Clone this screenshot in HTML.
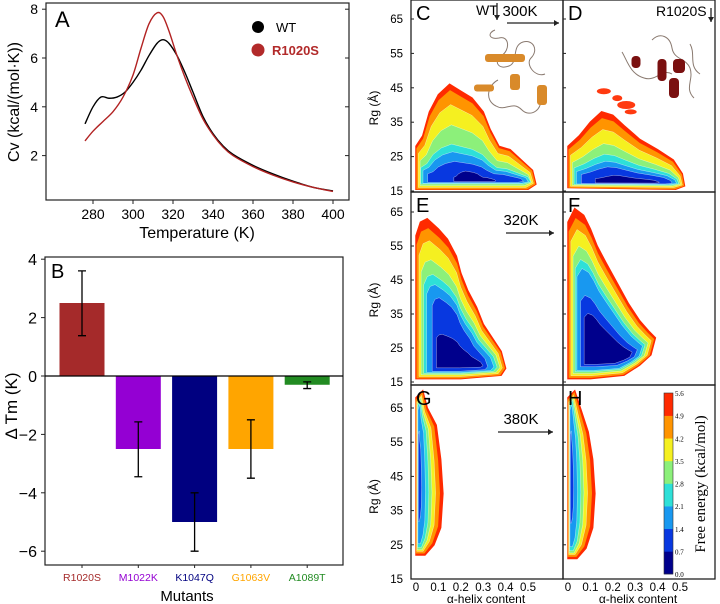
<!DOCTYPE html>
<html><head><meta charset="utf-8"><style>
html,body{margin:0;padding:0;background:#fff;width:720px;height:604px;overflow:hidden}
svg{display:block;font-family:"Liberation Sans",sans-serif}
</style></head><body>
<svg id="fig" width="720" height="604" viewBox="0 0 720 604">
<g id="pa"></g>
<g id="pb"></g>
<g id="hm"></g>
</svg>
<script>
// ---------- Panel A data ----------
const tempWT = [276,280,284,288,292,296,300,304,308,312,315,318,322,326,330,335,340,345,350,360,370,380,390,400];
const cvWT   = [3.3,4.0,4.4,4.35,4.4,4.6,5.0,5.5,6.1,6.6,6.75,6.6,6.1,5.4,4.6,3.6,2.9,2.4,2.05,1.6,1.25,0.95,0.7,0.55];
const tempMut = [276,280,285,290,295,300,304,308,312,315,318,322,326,330,335,340,345,350,360,370,380,390,400];
const cvMut   = [2.6,3.0,3.4,3.8,4.4,5.3,6.4,7.4,7.85,7.7,7.1,6.1,5.2,4.4,3.5,2.85,2.35,2.0,1.55,1.2,0.92,0.7,0.53];
const tempTicks = [280,300,320,340,360,380,400];
const cvTicks = [2,4,6,8];
// ---------- Panel B data ----------
const mutants = ["R1020S","M1022K","K1047Q","G1063V","A1089T"];
const deltaTm = [2.5,-2.5,-5.0,-2.5,-0.3];
const errLow  = [1.38,-3.45,-6.0,-3.5,-0.43];
const errHigh = [3.6,-1.57,-4.0,-1.5,-0.2];
const dtmTicks = [4,2,0,-2,-4,-6];
// ---------- Heatmap data (alpha-helix, Rg) ----------
const rgTicks = [15,25,35,45,55,65];
const helixTicks = [0,0.1,0.2,0.3,0.4,0.5];
const levelValues = ["0.0","0.7","1.4","2.1","2.8","3.5","4.2","4.9","5.6"];
const outerC = [[0,15.5],[0,28],[0.03,31],[0.06,38],[0.1,43],[0.15,46],[0.2,44],[0.25,42],[0.3,38],[0.33,33],[0.37,28],[0.42,27],[0.47,24],[0.52,21],[0.535,17],[0.5,15.5]];
const outerD = [[0,16],[0,28],[0.05,31],[0.1,35],[0.15,38],[0.2,37],[0.25,34],[0.32,30],[0.4,27],[0.47,24],[0.51,20],[0.52,16.5],[0.48,15.5]];
const outerE = [[0,16],[0,58],[0.02,62],[0.05,63],[0.1,60],[0.14,57],[0.18,52],[0.2,47],[0.23,42],[0.27,37],[0.3,32],[0.34,28],[0.38,24],[0.4,19],[0.38,17],[0.2,16]];
const outerF = [[0,16],[0,62],[0.03,66],[0.07,64],[0.1,60],[0.13,55],[0.17,50],[0.22,44],[0.27,38],[0.32,33],[0.36,30],[0.39,28],[0.37,23],[0.32,20],[0.25,17],[0.1,16]];
const outerG = [[0,22],[0,68],[0.03,70],[0.05,65],[0.09,60],[0.11,50],[0.12,40],[0.11,30],[0.08,25],[0.04,22]];
const outerH = [[0,21],[0,68],[0.03,70],[0.06,64],[0.09,58],[0.11,50],[0.12,40],[0.11,30],[0.08,24],[0.04,21]];

const NS="http://www.w3.org/2000/svg";
function mk(parent,tag,attrs,text){const e=document.createElementNS(NS,tag);for(const k in attrs)e.setAttribute(k,attrs[k]);if(text!==undefined)e.textContent=text;parent.appendChild(e);return e;}

// ---------- Panel A ----------
(function(){
const g=document.getElementById('pa');
const X=t=>93+(t-280)*2, Y=v=>204.4-24.4*v;
function smooth(ts,vs){const p=ts.map((t,i)=>[X(t),Y(vs[i])]);let d=`M${p[0][0]},${p[0][1]}`;for(let i=0;i<p.length-1;i++){const p0=p[Math.max(0,i-1)],p1=p[i],p2=p[i+1],p3=p[Math.min(p.length-1,i+2)];d+=` C${p1[0]+(p2[0]-p0[0])/6},${p1[1]+(p2[1]-p0[1])/6} ${p2[0]-(p3[0]-p1[0])/6},${p2[1]-(p3[1]-p1[1])/6} ${p2[0]},${p2[1]}`;}return d;}
const box=mk(g,'rect',{x:46,y:3,width:303,height:197,fill:'none',stroke:'#222','stroke-width':1.2});

tempTicks.forEach(t=>{const l=mk(g,'line',{x1:X(t),x2:X(t),y1:200,y2:204,stroke:'#222'});
const tx=mk(g,'text',{x:X(t),y:219,'text-anchor':'middle','font-size':14},t);});
cvTicks.forEach(v=>{const l=mk(g,'line',{x1:46,x2:42,y1:Y(v),y2:Y(v),stroke:'#222'});
const l2=mk(g,'line',{x1:349,x2:345,y1:Y(v),y2:Y(v),stroke:'#222'});
const tx=mk(g,'text',{x:38,y:Y(v)+5,'text-anchor':'end','font-size':14},v);});
const wt=mk(g,'path',{d:smooth(tempWT,cvWT),fill:'none',stroke:'#000','stroke-width':1.4});
const mu=mk(g,'path',{d:smooth(tempMut,cvMut),fill:'none',stroke:'#b22222','stroke-width':1.4});
const lbl=mk(g,'text',{x:55,y:27,'font-size':22},'A');
const d1=mk(g,'circle',{cx:258,cy:27,r:6,fill:'#000'});
const t1=mk(g,'text',{x:276,y:32,'font-size':13},'WT');
const d2=mk(g,'circle',{cx:258,cy:50,r:6.5,fill:'#b22a2a'});
const t2=mk(g,'text',{x:272,y:55,'font-size':13,'font-weight':'bold',fill:'#b22a2a'},'R1020S');
const xl=mk(g,'text',{x:197,y:238,'text-anchor':'middle','font-size':16},'Temperature (K)');
const yl=mk(g,'text',{x:0,y:0,'text-anchor':'middle','font-size':16,transform:'translate(19,102) rotate(-90)'},'Cv (kcal/(mol·K))');
})();

// ---------- Panel B ----------
(function(){
const g=document.getElementById('pb');
const Y=v=>376-29.2*v, X=i=>82+i*56.3;
const cols=['#a52a2a','#9400d3','#000080','#ffa500','#228b22'];
const box=mk(g,'rect',{x:45,y:257,width:298,height:308,fill:'none',stroke:'#222','stroke-width':1.2});
dtmTicks.forEach(v=>{const l=mk(g,'line',{x1:45,x2:41,y1:Y(v),y2:Y(v),stroke:'#222'});
const tx=mk(g,'text',{x:37,y:Y(v)+6,'text-anchor':'end','font-size':16},v<0?'−'+(-v):v);});
mutants.forEach((m,i)=>{const y0=Y(Math.max(0,deltaTm[i])),h=Math.abs(Y(deltaTm[i])-Y(0));
const b=mk(g,'rect',{x:X(i)-22.5,y:y0,width:45,height:h,fill:cols[i]});
const e=mk(g,'path',{d:`M${X(i)},${Y(errLow[i])}V${Y(errHigh[i])}M${X(i)-4},${Y(errLow[i])}h8M${X(i)-4},${Y(errHigh[i])}h8`,stroke:'#000','stroke-width':1.3,fill:'none'});
const l=mk(g,'line',{x1:X(i),x2:X(i),y1:565,y2:568,stroke:'#222'});
const tx=mk(g,'text',{x:X(i),y:581,'text-anchor':'middle','font-size':10.5,fill:cols[i]},m);});
const z=mk(g,'line',{x1:45,x2:343,y1:Y(0),y2:Y(0),stroke:'#000','stroke-width':1.3});
const lbl=mk(g,'text',{x:51,y:278,'font-size':20},'B');
const xl=mk(g,'text',{x:187,y:601,'text-anchor':'middle','font-size':15},'Mutants');
const yl=mk(g,'text',{x:0,y:0,'text-anchor':'middle','font-size':17,transform:'translate(17,406) rotate(-90)'},'Δ Tm (K)');
})();

// ---------- Heatmaps ----------
(function(){
const g=document.getElementById('hm');
const colors=['#ff2a00','#ff9400','#f5f020','#8cf07a','#2ee0d8','#1898f0','#0838e0','#00008c'];
const cbar=['#00008c','#0838e0','#1898f0','#2ee0d8','#8cf07a','#f5f020','#ff9400','#ff2a00'];
const colsX=[[411,416],[563,568]];
const rows=[[0,19,191],[192,212,382],[385,408,579]];
const panels=[
 {o:outerC,c:[0.26,18],xs:[1,.98,.96,.93,.92,.88,.8,.35],ys:[1,.93,.79,.58,.38,.3,.2,.1],r:0,k:0,L:'C'},
 {o:outerD,c:[0.27,17.5],xs:[1,.98,.96,.93,.9,.86,.78,.55],ys:[1,.9,.75,.55,.4,.3,.22,.1],r:0,k:1,L:'D'},
 {o:outerE,c:[0.19,20],xs:[1,.97,.93,.88,.82,.75,.62,.52],ys:[1,.93,.85,.72,.62,.55,.46,.21],r:1,k:0,L:'E'},
 {o:outerF,c:[0.16,22],xs:[1,.96,.92,.86,.8,.75,.65,.55],ys:[1,.93,.86,.75,.66,.6,.42,.3],r:1,k:1,L:'F'},
 {o:outerG,c:[0.012,44],xs:[1,.85,.7,.55,.42,.28,.12,0],ys:[1,.97,.95,.93,.9,.85,.55,0],r:2,k:0,L:'G'},
 {o:outerH,c:[0.012,44],xs:[1,.85,.7,.55,.42,.28,.12,0],ys:[1,.97,.95,.93,.9,.85,.55,0],r:2,k:1,L:'H'}];
panels.forEach(p=>{
 const [fl,x0]=colsX[p.k],[ft,y65,y15]=rows[p.r];
 const X=a=>x0+a*224, Y=rg=>y15-(rg-15)*(y15-y65)/50;
 const pg=mk(g,'g',{});
 colors.forEach((col,li)=>{if(p.xs[li]===0&&p.ys[li]===0)return;
  const pts=p.o.map(([a,r])=>[X(p.c[0]+(a-p.c[0])*p.xs[li]),Y(p.c[1]+(r-p.c[1])*p.ys[li])]);
  const poly=mk(pg,'polygon',{points:pts.map(q=>q.join(',')).join(' '),fill:col,stroke:li<2?col:'#fff','stroke-width':li<2?1.5:0.5,'stroke-opacity':li<2?1:0.6});
  });
 const fr=mk(g,'rect',{x:fl,y:ft,width:152,height:(p.r===0?192:(p.r===1?193:194)),fill:'none',stroke:'#222','stroke-width':1.3});
 const lb=mk(g,'text',{x:fl+5,y:ft+20,'font-size':20},p.L);
 rgTicks.forEach(v=>{const t=mk(g,'line',{x1:fl,x2:fl+3,y1:Y(v),y2:Y(v),stroke:'#222'});
  if(p.k===0){const tx=mk(g,'text',{x:fl-8,y:Y(v)+4,'text-anchor':'end','font-size':11.5},v);}});
 if(p.k===0){const yl=mk(g,'text',{x:0,y:0,'text-anchor':'middle','font-size':12,transform:`translate(378,${(y65+y15)/2+3}) rotate(-90)`},'Rg (Å)');}
 if(p.r===2){helixTicks.forEach(v=>{const tx=mk(g,'text',{x:X(v),y:591,'text-anchor':'middle','font-size':11.5},v);});
  const xl=mk(g,'text',{x:fl+75,y:603,'text-anchor':'middle','font-size':12},'α-helix content');}
});
// red islands in D
[[0.16,44,7,3],[0.22,42,5,3],[0.26,40,9,4],[0.28,38,6,2.5]].forEach(([a,r,w,h])=>{const e=mk(g,'ellipse',{cx:568+a*224,cy:191-(r-15)*3.44,rx:w,ry:h,fill:'#ff3a10'});});
function arrow(x1,y1,x2,y2,name){const a=mk(g,'path',{d:`M${x1},${y1}L${x2},${y2}`,stroke:'#222','stroke-width':1.3});
 const dx=x2-x1,dy=y2-y1,L=Math.hypot(dx,dy),ux=dx/L,uy=dy/L;const h=mk(g,'path',{d:`M${x2},${y2}L${x2-5*ux-3*uy},${y2-5*uy+3*ux}L${x2-5*ux+3*uy},${y2-5*uy-3*ux}Z`,fill:'#222'});}
const T=[['300K',520,16,507,23,559,23],['320K',521,225,506,233,554,233],['380K',521,424,498,432,553,432]];
T.forEach(([t,tx,ty,x1,y1,x2,y2])=>{const e=mk(g,'text',{x:tx,y:ty,'text-anchor':'middle','font-size':15},t);arrow(x1,y1,x2,y2,'temperature-arrow');});
const wt=mk(g,'text',{x:476,y:15,'font-size':14},'WT');
arrow(497,3,497,20,'wt-arrow');
const mt=mk(g,'text',{x:656,y:16,'font-size':14},'R1020S');
arrow(711,8,711,22,'r1020s-arrow');
const p1=mk(g,'path',{d:'M495,30 c-8,3 -6,10 4,8 c10,-3 12,12 2,18 c-8,6 -2,14 8,10 c10,-4 2,-20 14,-24 c10,-3 16,8 8,16 c-6,6 4,20 14,16 M498,80 c-10,5 -14,20 -2,26 c10,6 16,-6 26,4 c8,8 22,0 18,-14',fill:'none',stroke:'#8a7a70','stroke-width':1});
[[505,58,40,8],[515,82,10,16],[484,88,20,7],[542,95,10,20]].forEach(([x,y,w,h])=>{const r=mk(g,'rect',{x:x-w/2,y:y-h/2,width:w,height:h,rx:3,fill:'#d98a2a'});});
const p2=mk(g,'path',{d:'M622,52 c5,8 8,22 22,26 c12,4 18,-10 28,-4 M652,40 c8,-8 18,-4 20,8 c2,12 14,10 18,20 c4,12 -6,20 4,30 M690,44 c6,10 -2,22 10,30',fill:'none',stroke:'#8a7a70','stroke-width':1});
[[636,62,9,12],[662,70,9,22],[679,66,12,14],[674,88,10,20]].forEach(([x,y,w,h])=>{const r=mk(g,'rect',{x:x-w/2,y:y-h/2,width:w,height:h,rx:4,fill:'#7a1010'});});
const cy0=574,cy1=393,ch=(cy0-cy1)/8;
cbar.forEach((c,i)=>{const r=mk(g,'rect',{x:664,y:cy0-(i+1)*ch,width:9,height:ch+0.3,fill:c});});
const cf=mk(g,'rect',{x:664,y:cy1,width:9,height:cy0-cy1,fill:'none',stroke:'#333','stroke-width':0.6});
levelValues.forEach((v,i)=>{const t=mk(g,'text',{x:675,y:cy0-i*ch+3,'font-size':7,'font-family':'Liberation Serif, serif'},v);});
const ct=mk(g,'text',{x:0,y:0,'text-anchor':'middle','font-size':15,'font-family':'Liberation Serif, serif',transform:'translate(705,484) rotate(-90)'},'Free energy (kcal/mol)');
})();
</script>
</body></html>
